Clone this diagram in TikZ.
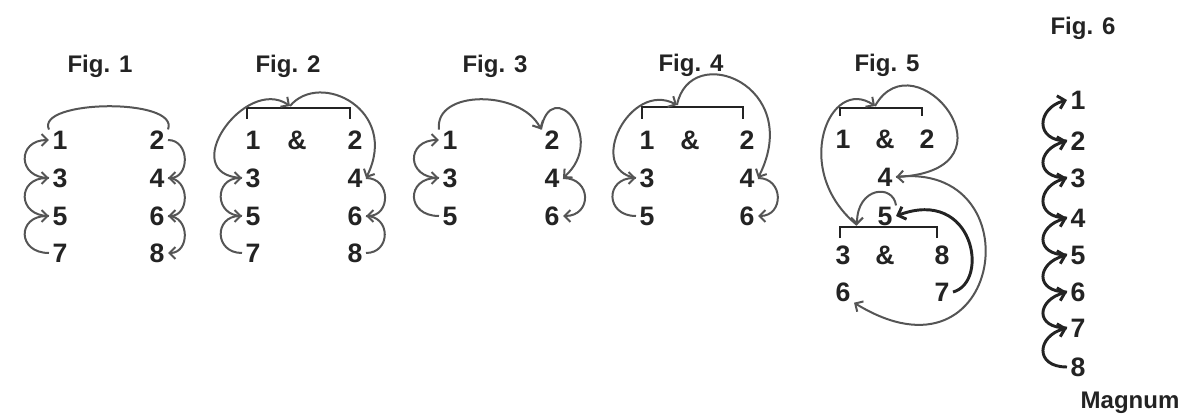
\documentclass[tikz,border=0pt]{standalone}
\usepackage{fontspec}
\setmainfont{Liberation Sans}
\usetikzlibrary{arrows.meta}
\definecolor{linkgray}{RGB}{85,85,85}
\definecolor{inkblack}{RGB}{35,35,35}
\newcommand{\figfont}{\fontsize{18}{21}\selectfont\bfseries}
\newcommand{\digitfont}{\fontsize{20}{23}\selectfont\bfseries}
\tikzset{
  num/.style={inner sep=0.75pt, inner xsep=2.5pt, text=inkblack, font=\digitfont},
  figtitle/.style={anchor=base, inner sep=0.75pt, text=inkblack, font=\figfont},
  link/.style={draw=linkgray, line width=1.5pt, -{Straight Barb[length=4.5pt,width=9pt]}},
  plainlink/.style={draw=linkgray, line width=1.5pt},
  blacklink/.style={draw=inkblack, line width=2.2pt, -{Straight Barb[length=5pt,width=10pt]}},
  bracketline/.style={draw=inkblack, line width=1.8pt}
}
\begin{document}
\begin{tikzpicture}[x=0.75pt,y=0.75pt,yscale=-1,xscale=1]
\useasboundingbox (0,0) rectangle (1187,417);
% Fig. 1
\node[figtitle] (t1) at (100,73) {Fig. 1};
\node[num] (f1n1) at (60,140) {1};
\node[num] (f1n3) at (60,178) {3};
\node[num] (f1n5) at (60,216) {5};
\node[num] (f1n7) at (60,253) {7};
\node[num] (f1n2) at (157,140) {2};
\node[num] (f1n4) at (157,178) {4};
\node[num] (f1n6) at (157,216) {6};
\node[num] (f1n8) at (157,253) {8};
\draw[link] (f1n7.west) .. controls +(-32,0) and +(-32,0) .. (f1n5.west);
\draw[link] (f1n5.west) .. controls +(-32,0) and +(-32,0) .. (f1n3.west);
\draw[link] (f1n3.west) .. controls +(-32,0) and +(-32,0) .. (f1n1.west);
\draw[plainlink] (f1n1.north west) .. controls +(-14,-30) and +(12,-32) .. (f1n2.north east);
\draw[link] (f1n2.east) .. controls +(22,0) and +(22,0) .. (f1n4.east);
\draw[link] (f1n4.east) .. controls +(22,0) and +(22,0) .. (f1n6.east);
\draw[link] (f1n6.east) .. controls +(22,0) and +(22,0) .. (f1n8.east);
% Fig. 2
\node[figtitle] (t2) at (288,73) {Fig. 2};
\node[num] (f2n1) at (253,140) {1};
\node[num] (f2amp) at (297,140) {\&};
\node[num] (f2n2) at (355,140) {2};
\node[num] (f2n3) at (253,178) {3};
\node[num] (f2n5) at (253,216) {5};
\node[num] (f2n7) at (253,253) {7};
\node[num] (f2n4) at (355,178) {4};
\node[num] (f2n6) at (355,216) {6};
\node[num] (f2n8) at (355,253) {8};
\draw[bracketline] (247,119) |- (350,108) -- (350,119);
\coordinate (f2top) at (290,106);
\draw[link] (f2n7.west) .. controls +(-28,0) and +(-28,0) .. (f2n5.west);
\draw[link] (f2n5.west) .. controls +(-28,0) and +(-28,0) .. (f2n3.west);
\draw[link] (f2n3.west) .. controls +(-67,-3) and +(-45,-31) .. (f2top);
\draw[link] (f2top) .. controls +(30,-36) and +(34,-68) .. (f2n4.east);
\draw[link] (f2n4.east) .. controls +(25,0) and +(25,0) .. (f2n6.east);
\draw[plainlink] (f2n6.east) .. controls +(25,0) and +(25,0) .. (f2n8.east);
% Fig. 3
\node[figtitle] (t3) at (495,73) {Fig. 3};
\node[num] (f3n1) at (450,140) {1};
\node[num] (f3n3) at (450,178) {3};
\node[num] (f3n5) at (450,216) {5};
\node[num] (f3n2) at (552,140) {2};
\node[num] (f3n4) at (552,178) {4};
\node[num] (f3n6) at (552,216) {6};
\draw[link] (f3n5.west) .. controls +(-33,0) and +(-33,0) .. (f3n3.west);
\draw[link] (f3n3.west) .. controls +(-33,0) and +(-33,0) .. (f3n1.west);
\draw[link] (f3n1.north west) .. controls +(-5,-40) and +(-20,-40) .. (f3n2.north west);
\draw[link] (f3n2.north west) .. controls +(10,-55) and +(45,-40) .. (f3n4.east);
\draw[link] (f3n4.east) .. controls +(29,0) and +(29,0) .. (f3n6.east);
% Fig. 4
\node[figtitle] (t4) at (691,72) {Fig. 4};
\node[num] (f4n1) at (647,140) {1};
\node[num] (f4amp) at (690,140) {\&};
\node[num] (f4n2) at (747,140) {2};
\node[num] (f4n3) at (647,178) {3};
\node[num] (f4n5) at (647,216) {5};
\node[num] (f4n4) at (747,178) {4};
\node[num] (f4n6) at (747,216) {6};
\draw[bracketline] (642,119) |- (743,107) -- (743,119);
\coordinate (f4top) at (677,105);
\draw[link] (f4n5.west) .. controls +(-31,0) and +(-31,0) .. (f4n3.west);
\draw[link] (f4n3.west) .. controls +(-51,-8) and +(-47,-25) .. (f4top);
\draw[link] (f4top) .. controls +(13,-65) and +(47,-93) .. (f4n4.east);
\draw[link] (f4n4.east) .. controls +(26,0) and +(26,0) .. (f4n6.east);
% Fig. 5
\node[figtitle] (t5) at (887,72) {Fig. 5};
\node[num] (f5n1) at (843,139) {1};
\node[num] (f5amp) at (885,139) {\&};
\node[num] (f5n2) at (927,139) {2};
\node[num] (f5n4) at (885,177) {4};
\node[num] (f5n5) at (885,216) {5};
\node[num] (f5n3) at (843,255) {3};
\node[num] (f5ampb) at (885,255) {\&};
\node[num] (f5n8) at (942,255) {8};
\node[num] (f5n6) at (843,292) {6};
\node[num] (f5n7) at (942,292) {7};
\draw[bracketline] (840,116) |- (922,108) -- (922,116);
\draw[bracketline] (840,238) |- (937,227) -- (937,238);
\coordinate (f5top) at (875,106);
\coordinate (f5low) at (857,225);
\draw[link] (f5low) .. controls +(-67,-55) and +(-45,-31) .. (f5top);
\draw[link] (f5top) .. controls +(40,-71) and +(129,-7) .. (f5n4.east);
\draw[link] (f5n4.east) .. controls +(140,-17) and +(150,92) .. (f5n6.south east);
\draw[link] (f5n5.north east) .. controls +(-3,-22) and +(0,-38) .. (f5low);
\draw[blacklink] (f5n7.east) .. controls +(37,-10) and +(78,-29) .. (f5n5.east);
% Fig. 6
\node[figtitle] (t6) at (1083,35) {Fig. 6};
\node[num] (f6n1) at (1078,100) {1};
\node[num] (f6n2) at (1078,141) {2};
\node[num] (f6n3) at (1078,178) {3};
\node[num] (f6n4) at (1078,218) {4};
\node[num] (f6n5) at (1078,255) {5};
\node[num] (f6n6) at (1078,292) {6};
\node[num] (f6n7) at (1078,328) {7};
\node[num] (f6n8) at (1078,367) {8};
\draw[blacklink] (f6n8.west) .. controls +(-33,0) and +(-30,8) .. (f6n7.west);
\draw[blacklink] (f6n7.west) .. controls +(-33,0) and +(-30,8) .. (f6n6.west);
\draw[blacklink] (f6n6.west) .. controls +(-33,0) and +(-30,8) .. (f6n5.west);
\draw[blacklink] (f6n5.west) .. controls +(-33,0) and +(-30,8) .. (f6n4.west);
\draw[blacklink] (f6n4.west) .. controls +(-33,0) and +(-30,8) .. (f6n3.west);
\draw[blacklink] (f6n3.west) .. controls +(-33,0) and +(-30,8) .. (f6n2.west);
\draw[blacklink] (f6n2.west) .. controls +(-33,0) and +(-30,8) .. (f6n1.west);
\node[figtitle] (mag) at (1130,408) {Magnum};
\end{tikzpicture}
\end{document}
